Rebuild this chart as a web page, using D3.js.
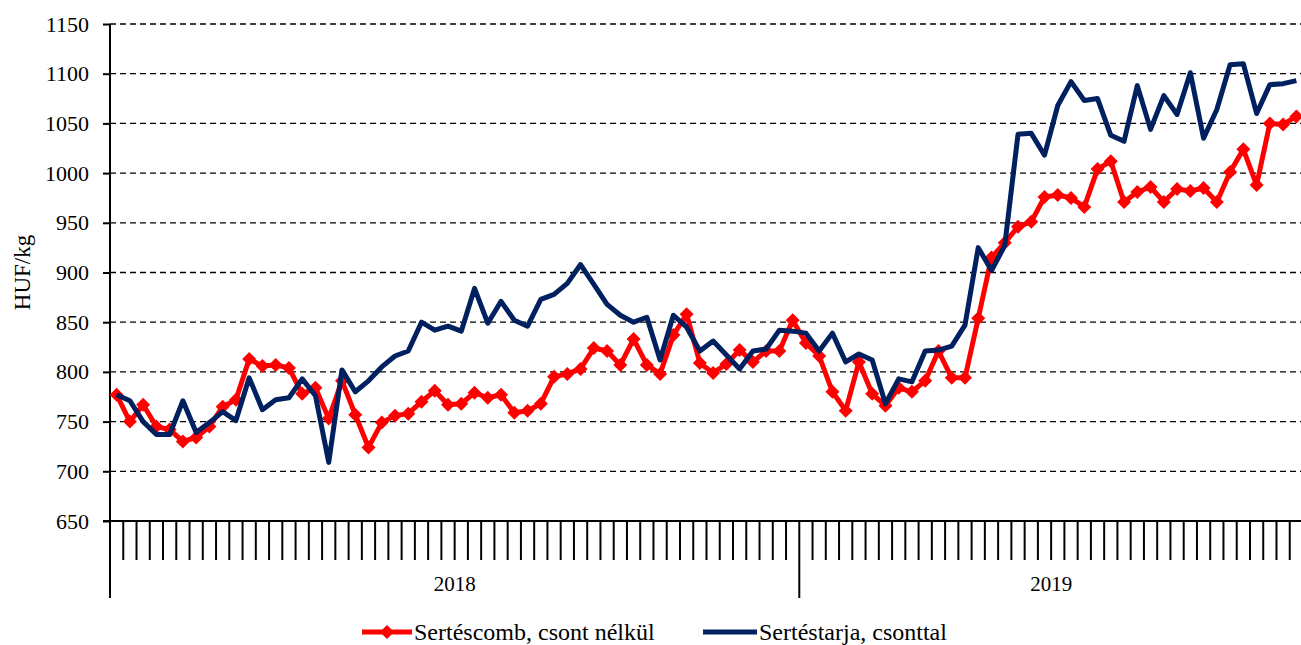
<!DOCTYPE html>
<html>
<head>
<meta charset="utf-8">
<script src="https://cdn.jsdelivr.net/npm/d3@7"></script>
<style>
  html, body { margin: 0; padding: 0; background: #fff; }
  svg text { font-family: "Liberation Serif", "Times New Roman", serif !important; fill: #000; }
</style>
</head>
<body>
<svg id="chart"></svg>
<script>
const width = 1301;
const height = 645;
const margin = {top : 24, left : 110, bottom : 124, right : -2};
const serif = '"Liberation Serif", "Times New Roman", serif';

const years = ["2018", "2019"];
const weeksPerYear = [52, 38];
const yTicks = [650, 700, 750, 800, 850, 900, 950, 1000, 1050, 1100, 1150];
const seriesNames = ["Sertéscomb, csont nélkül", "Sertéstarja, csonttal"];

// Sertéscomb, csont nélkül (HUF/kg)
const comb = [777, 750, 767, 745, 742, 730, 734, 745, 765, 772,
              813, 806, 807, 804, 778, 784, 753, 791, 757, 724,
              749, 756, 758, 770, 781, 767, 768, 779, 774, 777,
              759, 761, 768, 795, 798, 803, 824, 821, 807, 833,
              807, 798, 837, 858, 809, 799, 808, 822, 810, 821,
              821, 852, 829, 816, 780, 761, 810, 778, 766, 784,
              780, 791, 821, 794, 794, 854, 915, 930, 946, 951,
              976, 978, 975, 966, 1004, 1012, 971, 981, 986, 971,
              984, 982, 985, 971, 1001, 1024, 988, 1050, 1049, 1057];

// Sertéstarja, csonttal (HUF/kg)
const tarja = [777, 771, 750, 737, 737, 771, 739, 749, 760, 751,
               794, 762, 772, 774, 793, 776, 709, 802, 780, 791,
               805, 816, 821, 850, 842, 846, 841, 884, 849, 871,
               852, 846, 873, 878, 889, 908, 888, 868, 857, 850,
               855, 812, 857, 845, 821, 831, 817, 803, 821, 823,
               842, 841, 839, 821, 839, 810, 818, 812, 768, 793,
               790, 821, 822, 826, 847, 925, 902, 927, 1039, 1040,
               1018, 1068, 1092, 1073, 1075, 1038, 1032, 1088, 1044, 1078,
               1059, 1101, 1035, 1064, 1109, 1110, 1060, 1089, 1090, 1093];

const categories = [];
years.forEach((yr, k) => {
    d3.range(1, weeksPerYear[k] + 1).forEach(w => categories.push(yr + "-" + w));
});

const svg = d3.select("#chart")
    .attr("width", width)
    .attr("height", height)
    .attr("viewBox", [0, 0, width, height])
    .style("font-family", serif);

const x = d3.scaleBand()
    .domain(categories)
    .range([margin.left, width - margin.right])
    .padding(0);

const y = d3.scaleLinear()
    .domain([650, 1150])
    .range([height - margin.bottom, margin.top]);

const x0 = margin.left;
const x1 = width - margin.right;
const yBase = y(650);

// dashed gridlines
svg.append("g")
    .selectAll("line")
    .data(yTicks.filter(d => d > 650))
    .join("line")
    .attr("x1", x0)
    .attr("x2", x1)
    .attr("y1", d => y(d))
    .attr("y2", d => y(d))
    .attr("stroke", "#000")
    .attr("stroke-width", 1.3)
    .attr("stroke-dasharray", "6,4");

// y axis
const yAxis = g => g
    .attr("transform", `translate(${x0},0)`)
    .call(d3.axisLeft(y).tickValues(yTicks).tickFormat(d3.format("d")).tickSize(7).tickPadding(14))
    .call(g => g.select(".domain").remove())
    .call(g => g.attr("font-family", serif).attr("font-size", 22))
    .call(g => g.selectAll(".tick line").attr("stroke", "#000").attr("stroke-width", 2))
    .call(g => g.selectAll(".tick text")
        .style("font-family", serif)
        .style("font-size", "22px")
        .attr("fill", "#000"));

svg.append("g").call(yAxis);

svg.append("line")
    .attr("x1", x0).attr("x2", x0)
    .attr("y1", margin.top).attr("y2", yBase + 77)
    .attr("stroke", "#000").attr("stroke-width", 2);

// x axis line
svg.append("line")
    .attr("x1", x0 - 7).attr("x2", x1)
    .attr("y1", yBase).attr("y2", yBase)
    .attr("stroke", "#000").attr("stroke-width", 2);

// week boundary ticks
svg.append("g")
    .selectAll("line")
    .data(categories.slice(1))
    .join("line")
    .attr("x1", d => x(d))
    .attr("x2", d => x(d))
    .attr("y1", yBase)
    .attr("y2", d => d.endsWith("-1") ? yBase + 77 : yBase + 39)
    .attr("stroke", "#000")
    .attr("stroke-width", 2);

// year labels
svg.append("g")
    .selectAll("text")
    .data(years)
    .join("text")
    .attr("x", (d, k) => {
        const a = x(d + "-1");
        const b = x(d + "-" + weeksPerYear[k]) + x.bandwidth();
        return (a + b) / 2;
    })
    .attr("y", yBase + 70)
    .attr("text-anchor", "middle")
    .style("font-size", "21px")
    .text(d => d);

// y axis title
svg.append("text")
    .attr("transform", `translate(30,${(margin.top + yBase) / 2}) rotate(-90)`)
    .attr("text-anchor", "middle")
    .style("font-size", "23px")
    .text("HUF/kg");

const cx = (d, i) => x(categories[i]) + x.bandwidth() / 2;

const line = d3.line()
    .x(cx)
    .y(d => y(d));

const diamond = d3.symbol().type(d3.symbolSquare).size(98);

// Sertéscomb
svg.append("path")
    .datum(comb)
    .attr("fill", "none")
    .attr("stroke", "#ff0000")
    .attr("stroke-width", 5)
    .attr("stroke-linejoin", "round")
    .attr("d", line);

svg.append("g")
    .selectAll("path")
    .data(comb)
    .join("path")
    .attr("transform", (d, i) => `translate(${cx(d, i)},${y(d)}) rotate(45)`)
    .attr("d", diamond)
    .attr("fill", "#ff0000");

// Sertéstarja
svg.append("path")
    .datum(tarja)
    .attr("fill", "none")
    .attr("stroke", "#002060")
    .attr("stroke-width", 5)
    .attr("stroke-linejoin", "round")
    .attr("d", line);

// legend
const legend = svg.append("g").attr("transform", "translate(0,632)");
const legendItems = [
    {name : seriesNames[0], color : "#ff0000", x : 362, len : 50, marker : true},
    {name : seriesNames[1], color : "#002060", x : 703, len : 54, marker : false}
];

legendItems.forEach(it => {
    legend.append("line")
        .attr("x1", it.x).attr("x2", it.x + it.len)
        .attr("y1", 0).attr("y2", 0)
        .attr("stroke", it.color)
        .attr("stroke-width", 5);
    if (it.marker) {
        legend.append("path")
            .attr("transform", `translate(${it.x + it.len / 2},0) rotate(45)`)
            .attr("d", diamond)
            .attr("fill", it.color);
    }
    legend.append("text")
        .attr("x", it.x + it.len + 2)
        .attr("y", 8)
        .style("font-size", "24px")
        .text(it.name);
});
</script>
</body>
</html>
